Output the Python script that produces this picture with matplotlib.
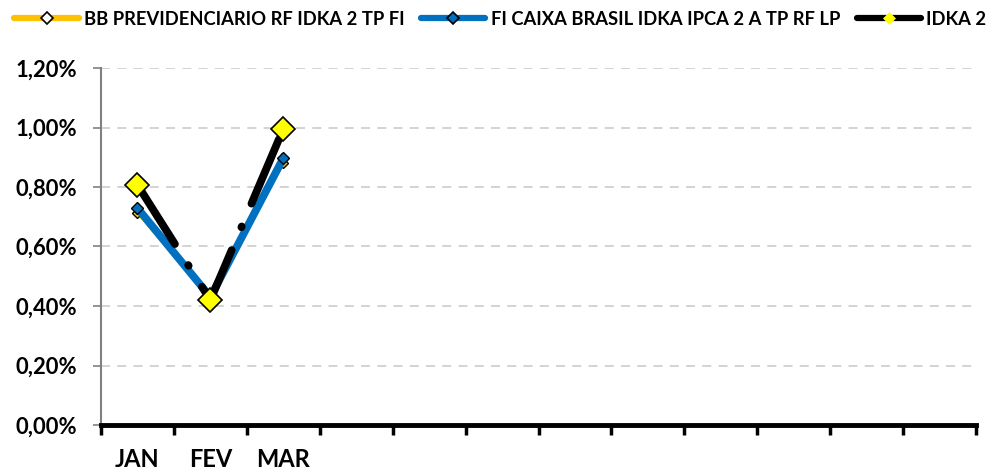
import matplotlib.pyplot as plt
from matplotlib.lines import Line2D
from matplotlib.ticker import FuncFormatter

plt.rcParams['font.family'] = ['Lato', 'DejaVu Sans']
plt.rcParams['font.weight'] = 'bold'

meses = ['JAN', 'FEV', 'MAR']
n_meses = 12
bb = [0.713, 0.43, 0.88]
caixa = [0.729, 0.43, 0.897]
idka = [0.807, 0.42, 0.995]
nomes = ['BB PREVIDENCIARIO RF IDKA 2 TP FI',
         'FI CAIXA BRASIL IDKA IPCA 2 A TP RF LP',
         'IDKA 2']

fig = plt.figure(figsize=(10.02, 4.71), dpi=100)
ax = fig.add_axes([101/1002, 1 - 425/471, 875/1002, 357/471])

x = list(range(len(meses)))
ax.plot(x, bb, color='#FFC000', lw=2.2, marker='D', ms=5.5,
        mfc='#FFC000', mec='black', mew=1, zorder=3)
ax.plot(x, caixa, color='#0070C0', lw=5.6, marker='D', ms=6.5,
        mfc='#0070C0', mec='black', mew=1, zorder=4)
ax.plot(x, idka, color='black', lw=5.6, ls=(0, (9, 3.2, 0.1, 3.2)),
        dash_capstyle='round', zorder=5)
ax.plot(x, idka, ls='none', marker='D', ms=12, mfc='#FFFF00',
        mec='black', mew=1.2, zorder=6)

ax.set_xlim(-0.5, n_meses - 0.5)
ax.set_ylim(0, 1.2)
ax.set_yticks([i * 0.2 for i in range(7)])
ax.yaxis.set_major_formatter(FuncFormatter(lambda v, p: f'{v:.2f}%'.replace('.', ',')))
ax.set_xticks([i - 0.5 for i in range(n_meses + 1)])
ax.set_xticklabels([])
ax.set_xticks(x, minor=True)
ax.set_xticklabels(meses, minor=True)
ax.tick_params(axis='x', which='major', direction='out', length=7, width=2.5, color='black')
ax.tick_params(axis='x', which='minor', length=0, pad=16.5, labelsize=17)
ax.tick_params(axis='y', length=6, width=1.2, color='#808080', labelsize=15.8, pad=11.5)
for t in ax.get_yticklabels() + ax.get_xticklabels(minor=True):
    t.set_fontweight('bold')

ax.grid(axis='y', color='#D0D0D0', ls=(0, (5, 4)), lw=1.3)
ax.set_axisbelow(True)
for s in ['top', 'right']:
    ax.spines[s].set_visible(False)
ax.spines['left'].set_color('#808080')
ax.spines['left'].set_linewidth(1.5)
ax.spines['bottom'].set_color('black')
ax.spines['bottom'].set_linewidth(3.5)
ax.spines['bottom'].set_zorder(7)

handles = [
    Line2D([], [], color='#FFC000', lw=4.5, marker='D', ms=6, mfc='white',
           mec='black', mew=1.2, solid_capstyle='round'),
    Line2D([], [], color='#0070C0', lw=4.5, marker='D', ms=6, mfc='#0070C0',
           mec='black', mew=1.2, solid_capstyle='round'),
    Line2D([], [], color='black', lw=4.5, marker='D', ms=6, mfc='#FFFF00',
           mec='#FFFF00', mew=0.5, solid_capstyle='round'),
]
fig.legend(handles, nomes, loc='upper left', bbox_to_anchor=(-0.002, 1.012), ncol=3,
           frameon=False, handlelength=3.5, handletextpad=0.3, columnspacing=0.9,
           prop={'weight': 'bold', 'size': 13.2})

fig.savefig('out.png', dpi=100)
